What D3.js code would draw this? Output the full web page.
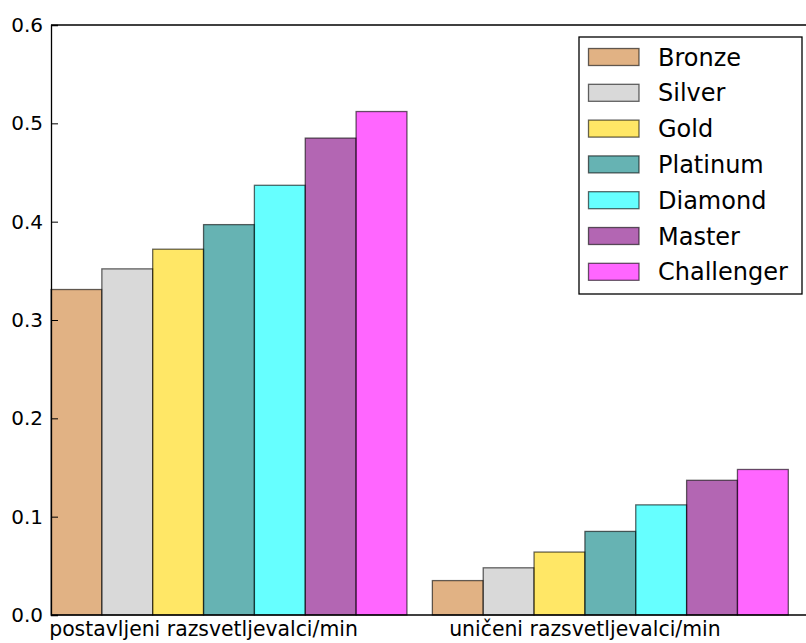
<!DOCTYPE html>
<html>
<head>
<meta charset="utf-8">
<script src="https://cdn.jsdelivr.net/npm/d3@7"></script>
<style>
  body { margin: 0; background: #fff; }
  svg { display: block; font-family: "DejaVu Sans", sans-serif; }
</style>
</head>
<body>
<svg id="chart" width="806" height="643"></svg>
<script>
// data
const groups = ['postavljeni razsvetljevalci/min', 'uničeni razsvetljevalci/min'];
const tiers = ['Bronze', 'Silver', 'Gold', 'Platinum', 'Diamond', 'Master', 'Challenger'];
const placed = [0.331, 0.352, 0.372, 0.397, 0.437, 0.485, 0.512];
const destroyed = [0.035, 0.048, 0.064, 0.085, 0.112, 0.137, 0.148];
const yTicks = [0.0, 0.1, 0.2, 0.3, 0.4, 0.5, 0.6];
const tierColors = ['#cd7f32', '#c0c0c0', '#ffd700', '#008080', '#00ffff', '#800080', '#ff00ff'];

const margin = {left: 51, top: 25, bottom: 615, right: 830};

const svg = d3.select('#chart');

const yScale = d3.scaleLinear()
    .domain([0, 0.6])
    .range([margin.bottom, margin.top]);

// outer band per group, inner band per tier
const xGroup = d3.scaleBand()
    .domain(groups)
    .range([margin.left, 788.3])
    .paddingInner(1 / 15)
    .paddingOuter(0);
const xTier = d3.scaleBand()
    .domain(tiers)
    .range([0, xGroup.bandwidth()])
    .padding(0);
const colorScale = d3.scaleOrdinal()
    .domain(tiers)
    .range(tierColors);

const rows = [];
groups.forEach((g, gi) => {
    const vals = gi === 0 ? placed : destroyed;
    tiers.forEach((t, ti) => rows.push({group: g, tier: t, value: vals[ti]}));
});

// bars
svg.append('g').selectAll('rect')
    .data(rows)
    .enter().append('rect')
    .attr('x', d => xGroup(d.group) + xTier(d.tier))
    .attr('y', d => yScale(d.value))
    .attr('width', xTier.bandwidth())
    .attr('height', d => yScale(0) - yScale(d.value))
    .attr('fill', d => colorScale(d.tier))
    .attr('fill-opacity', 0.6)
    .attr('stroke', '#000')
    .attr('stroke-opacity', 0.6)
    .attr('stroke-width', 1.3);

// frame
const frame = svg.append('g').attr('stroke', '#000').attr('stroke-width', 1.3);
frame.append('line')
    .attr('x1', margin.left).attr('x2', margin.right)
    .attr('y1', margin.top).attr('y2', margin.top);
frame.append('line')
    .attr('x1', margin.left).attr('x2', margin.right)
    .attr('y1', margin.bottom).attr('y2', margin.bottom);

// y axis with inward ticks
const yAxis = d3.axisRight(yScale)
    .tickValues(yTicks)
    .tickSize(7)
    .tickFormat(d3.format('.1f'));
const yG = svg.append('g')
    .attr('transform', `translate(${margin.left},0)`)
    .call(yAxis);
yG.select('.domain').attr('stroke', '#000').attr('stroke-width', 1.3);
yG.selectAll('.tick line').attr('stroke', '#000').attr('stroke-width', 1);
yG.selectAll('.tick text')
    .attr('x', -8)
    .attr('text-anchor', 'end')
    .attr('fill', '#000')
    .style('font-size', '20px')
    .style('font-family', '"DejaVu Sans", sans-serif');

// group labels, centred on the 4th bar's left edge
svg.append('g').selectAll('text')
    .data(groups)
    .enter().append('text')
    .attr('x', g => xGroup(g) + xTier(tiers[3]))
    .attr('y', 636)
    .attr('text-anchor', 'middle')
    .style('font-size', '20.4px')
    .text(g => g);

// legend
const legend = svg.append('g').attr('transform', 'translate(579,37)');
legend.append('rect')
    .attr('width', 223).attr('height', 257)
    .attr('fill', '#fff')
    .attr('stroke', '#000')
    .attr('stroke-width', 1.3);
const item = legend.selectAll('g.item')
    .data(tiers)
    .enter().append('g')
    .attr('class', 'item')
    .attr('transform', (d, i) => `translate(0,${20 + i * 35.8})`);
item.append('rect')
    .attr('x', 9.5).attr('y', -8.5)
    .attr('width', 50.5).attr('height', 17)
    .attr('fill', d => colorScale(d))
    .attr('fill-opacity', 0.6)
    .attr('stroke', '#000')
    .attr('stroke-opacity', 0.6)
    .attr('stroke-width', 1.3);
item.append('text')
    .attr('x', 79)
    .attr('y', 0)
    .attr('dy', '0.36em')
    .style('font-size', '24px')
    .text(d => d);
</script>
</body>
</html>
